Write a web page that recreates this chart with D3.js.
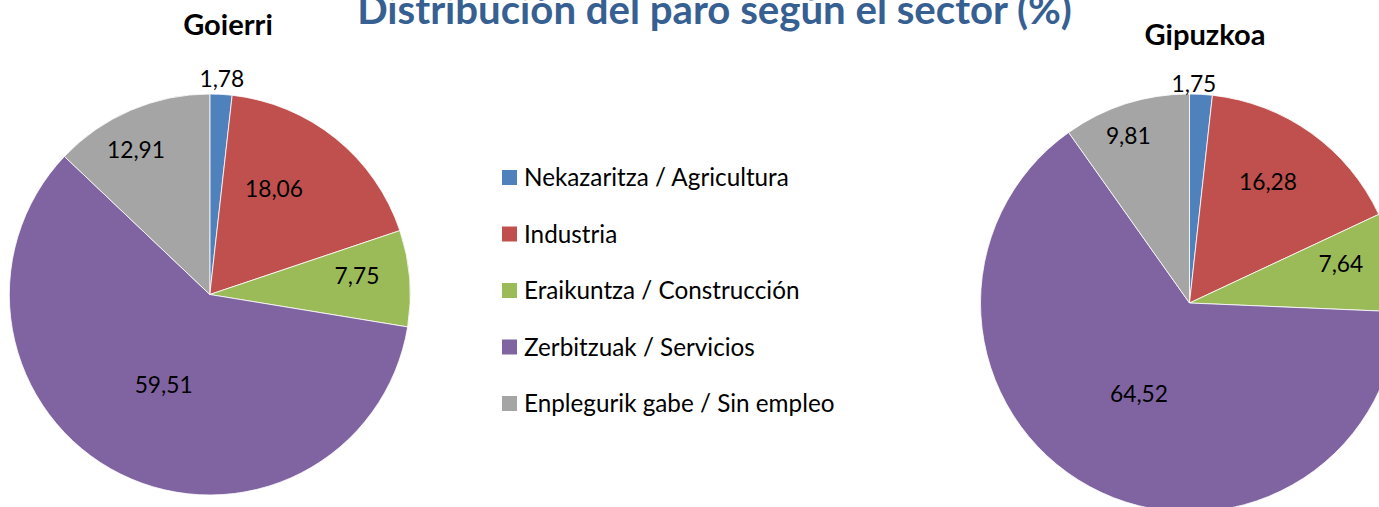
<!DOCTYPE html>
<html>
<head>
<meta charset="utf-8">
<script src="https://cdn.jsdelivr.net/npm/d3@7"></script>
<style>
  html, body { margin: 0; padding: 0; background: #fff; }
  svg { display: block; font-family: Lato, "Open Sans", sans-serif; }
</style>
</head>
<body>
<svg id="chart" width="1379" height="507"></svg>
<script>
// ---- data ----
const categories = [
  "Nekazaritza / Agricultura",
  "Industria",
  "Eraikuntza / Construcción",
  "Zerbitzuak / Servicios",
  "Enplegurik gabe / Sin empleo"
];
const goierriValues   = [1.78, 18.06, 7.75, 59.51, 12.91];
const gipuzkoaValues  = [1.75, 16.28, 7.64, 64.52, 9.81];
const regionNames     = ["Goierri", "Gipuzkoa"];
const chartTitle      = "Distribución del paro según el sector (%)";

// ---- styles / layout ----
const colors = ["#4F81BD", "#C0504D", "#9BBB59", "#8064A2", "#A5A5A5"];
const W = 1379, H = 507;
const pies = [
  { name: regionNames[0], values: goierriValues,  cx: 209.8,  cy: 294.5, r: 200.5, titleX: 228,  titleY: 35,
    labelPlace: [[1.076, 0], [0.616, -7.6], [0.74, -2.6], [0.507, 0.6], [0.81, -3.8]] },
  { name: regionNames[1], values: gipuzkoaValues, cx: 1189.5, cy: 303,   r: 209,   titleX: 1205, titleY: 45,
    labelPlace: [[1.048, -2], [0.69, -2.6], [0.748, -3.1], [0.498, 0.5], [0.85, -2.5]] }
];

const svg = d3.select("#chart");
svg.append("rect").attr("width", W).attr("height", H).attr("fill", "#fff");

// helper: font size so that a reference string reaches a target width
function fitSize(str, weight, targetW) {
  const t = svg.append("text").attr("font-size", 100).attr("font-weight", weight).text(str);
  const w = t.node().getComputedTextLength();
  t.remove();
  return 100 * targetW / w;
}
const labelFS  = fitSize("18,06", "normal", 58);
const legendFS = fitSize("Nekazaritza / Agricultura", "normal", 265);
const regionFS = fitSize("Gipuzkoa", "bold", 121);
const titleFS  = fitSize(chartTitle, "bold", 715);

const fmt = v => d3.format(".2f")(v).replace(".", ",");
const pie = d3.pie().sort(null).value(d => d);

pies.forEach(p => {
  const g = svg.append("g").attr("transform", `translate(${p.cx},${p.cy})`);
  const arcs = pie(p.values);
  const arc = d3.arc().innerRadius(0).outerRadius(p.r);
  g.selectAll("path").data(arcs).join("path")
    .attr("d", arc)
    .attr("fill", (d, i) => colors[i])
    .attr("stroke", "#fff")
    .attr("stroke-width", 0.8)
    .attr("stroke-linejoin", "round");

  g.selectAll("text.lbl").data(arcs).join("text")
    .attr("class", "lbl")
    .attr("text-anchor", "middle")
    .attr("font-size", labelFS)
    .attr("fill", "#000")
    .attr("x", (d, i) => {
      const a = (d.startAngle + d.endAngle) / 2 + p.labelPlace[i][1] * Math.PI / 180;
      return Math.sin(a) * p.r * p.labelPlace[i][0];
    })
    .attr("y", (d, i) => {
      const a = (d.startAngle + d.endAngle) / 2 + p.labelPlace[i][1] * Math.PI / 180;
      return -Math.cos(a) * p.r * p.labelPlace[i][0] + labelFS * 0.36;
    })
    .text(d => fmt(d.data));

  svg.append("text")
    .attr("x", p.titleX).attr("y", p.titleY)
    .attr("text-anchor", "middle")
    .attr("font-weight", "bold")
    .attr("font-size", regionFS)
    .attr("fill", "#000")
    .text(p.name);
});

// legend
const legendY = d3.scalePoint().domain(categories).range([186, 412]);
const lg = svg.append("g");
const items = lg.selectAll("g").data(categories).join("g");
items.append("rect")
  .attr("x", 502).attr("y", d => legendY(d) - 16)
  .attr("width", 15).attr("height", 15)
  .attr("fill", (d, i) => colors[i]);
items.append("text")
  .attr("x", 524).attr("y", d => legendY(d))
  .attr("font-size", legendFS)
  .attr("fill", "#000")
  .text(d => d);

// main title (partially cut at top, as in the original)
svg.append("text")
  .attr("x", 714.5).attr("y", 24)
  .attr("text-anchor", "middle")
  .attr("font-weight", "bold")
  .attr("font-size", titleFS)
  .attr("fill", "#376092")
  .text(chartTitle);
</script>
</body>
</html>
